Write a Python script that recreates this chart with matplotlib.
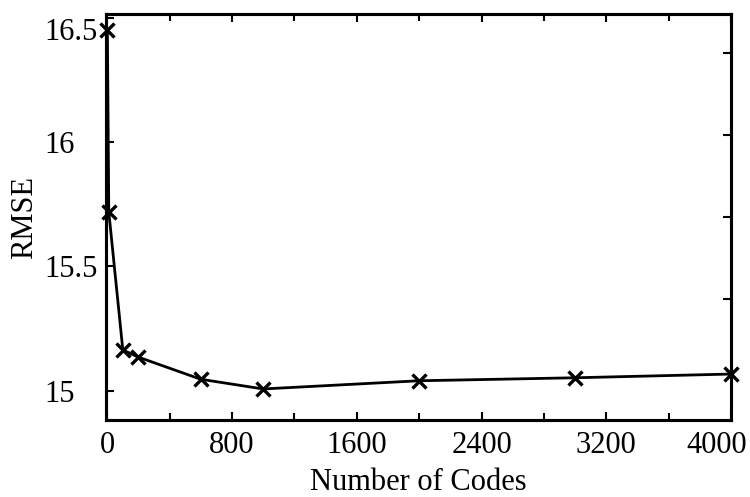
import matplotlib.pyplot as plt
from matplotlib.transforms import ScaledTranslation

# number of codes vs. RMSE
codes = [1, 10, 100, 200, 600, 1000, 2000, 3000, 4000]
rmse = [16.45, 15.72, 15.164, 15.135, 15.046, 15.007, 15.040, 15.052, 15.067]
x_ticks = [0, 800, 1600, 2400, 3200, 4000]
y_ticks = [15, 15.5, 16, 16.5]
right_ticks = [15.37, 15.70, 16.03, 16.36]  # right spine ticks sit off the left grid

plt.rcParams['font.family'] = ['Liberation Serif', 'DejaVu Serif']

fig = plt.figure(figsize=(7.5, 4.97), dpi=100)
ax = fig.add_axes([0.1413, 0.1549, 0.8334, 0.8169])

ax.plot(codes, rmse, 'k-', lw=2.0, marker='x', ms=10, mew=2.4, clip_on=False, zorder=3)

ax.set_xlim(-8, 4000)
ax.set_ylim(14.882, 16.516)
ax.set_xticks(x_ticks)
ax.set_yticks(y_ticks)
ax.set_xticks(range(0, 4001, 400), minor=True)
ax.set_yticklabels(['15', '15.5', '16', '16.5'])

ax.tick_params(which='both', direction='in', top=True, right=False, width=1.5, labelsize=22)
ax.tick_params(axis='x', pad=8)
ax.tick_params(axis='y', pad=44)
ax.tick_params(which='major', length=6)
ax.tick_params(which='minor', length=5)
for s in ax.spines.values():
    s.set_linewidth(2.2)

ax2 = ax.twinx()
ax2.set_ylim(ax.get_ylim())
ax2.set_yticks(right_ticks)
ax2.tick_params(direction='in', length=6, width=1.5, labelright=False)
for s in ax2.spines.values():
    s.set_linewidth(2.2)

for lab in ax.get_yticklabels():
    lab.set_horizontalalignment('left')
# edge labels sit pulled inward like in the original
ax.get_yticklabels()[-1].set_transform(
    ax.get_yticklabels()[-1].get_transform() + ScaledTranslation(0, -0.11, fig.dpi_scale_trans))
ax.get_xticklabels()[-1].set_transform(
    ax.get_xticklabels()[-1].get_transform() + ScaledTranslation(-0.14, 0, fig.dpi_scale_trans))

ax.set_xlabel('Number of Codes', fontsize=22, labelpad=6)
ax.set_ylabel('RMSE', fontsize=22, labelpad=4)

fig.savefig('out.png', dpi=100)
